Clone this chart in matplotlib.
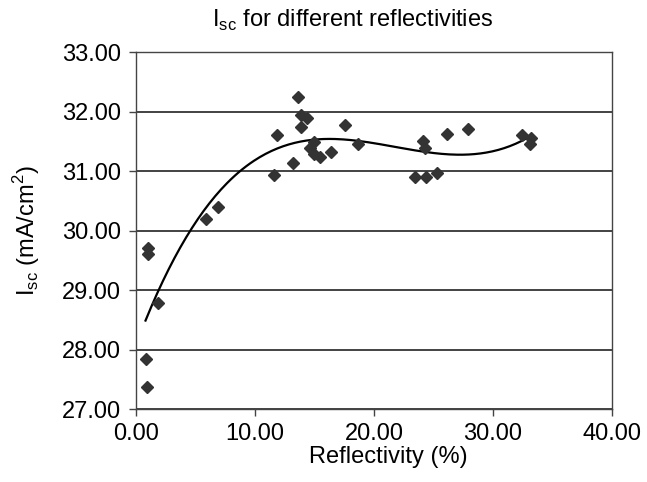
import numpy as np
import matplotlib.pyplot as plt

plt.rcParams['font.family'] = ['Liberation Sans', 'DejaVu Sans']

# Reflectivity (%) and Isc (mA/cm2)
reflectivity = [0.98, 0.98, 1.88, 0.81, 0.90, 5.88, 6.92, 11.63, 11.88, 13.17,
                13.59, 13.87, 14.40, 13.84, 14.99, 14.62, 14.98, 15.46, 16.36,
                17.56, 18.68, 23.45, 24.37, 25.27, 24.15, 24.29, 26.16, 27.87,
                32.41, 33.19, 33.10]
isc = [29.70, 29.60, 28.78, 27.85, 27.37, 30.19, 30.40, 30.93, 31.61, 31.13,
       32.24, 31.95, 31.89, 31.74, 31.49, 31.38, 31.29, 31.24, 31.32,
       31.78, 31.45, 30.90, 30.90, 30.97, 31.50, 31.38, 31.63, 31.71,
       31.60, 31.56, 31.45]

x = np.array(reflectivity)
y = np.array(isc)

# polynomial trendline like the spreadsheet one
coef = np.polyfit(x, y, 3)
xs = np.linspace(x.min(), x.max(), 200)
ys = np.polyval(coef, xs)

fs = 17

fig = plt.figure(figsize=(6.47, 4.82), dpi=100)
ax = fig.add_axes([0.210, 0.151, 0.736, 0.741])

ax.plot(x, y, 'D', color='#333333', markersize=6, zorder=3)
ax.plot(xs, ys, color='black', linewidth=1.6, zorder=2)

ax.set_xlim(0, 40)
ax.set_ylim(27, 33)
ax.set_xticks([0, 10, 20, 30, 40])
ax.set_yticks([27, 28, 29, 30, 31, 32, 33])
ax.xaxis.set_major_formatter(plt.FormatStrFormatter('%.2f'))
ax.yaxis.set_major_formatter(plt.FormatStrFormatter('%.2f'))
ax.tick_params(labelsize=fs, length=5, width=1, color='#444444')
ax.tick_params(axis='y', pad=6)
ax.tick_params(axis='x', pad=5)
ax.grid(axis='y', color='#222222', linewidth=1.2)
ax.set_axisbelow(True)
for s in ax.spines.values():
    s.set_color('#444444')
    s.set_linewidth(1)

ax.set_xlabel('Reflectivity (%)', fontsize=fs, labelpad=1, x=0.53)
ax.set_ylabel(r'I$_{\mathregular{sc}}$ (mA/cm$^{\mathregular{2}}$)', fontsize=fs, labelpad=14)
ax.set_title(r'I$_{\mathregular{sc}}$ for different reflectivities', fontsize=fs, pad=18, x=0.455)

fig.savefig('out.png', dpi=100)
